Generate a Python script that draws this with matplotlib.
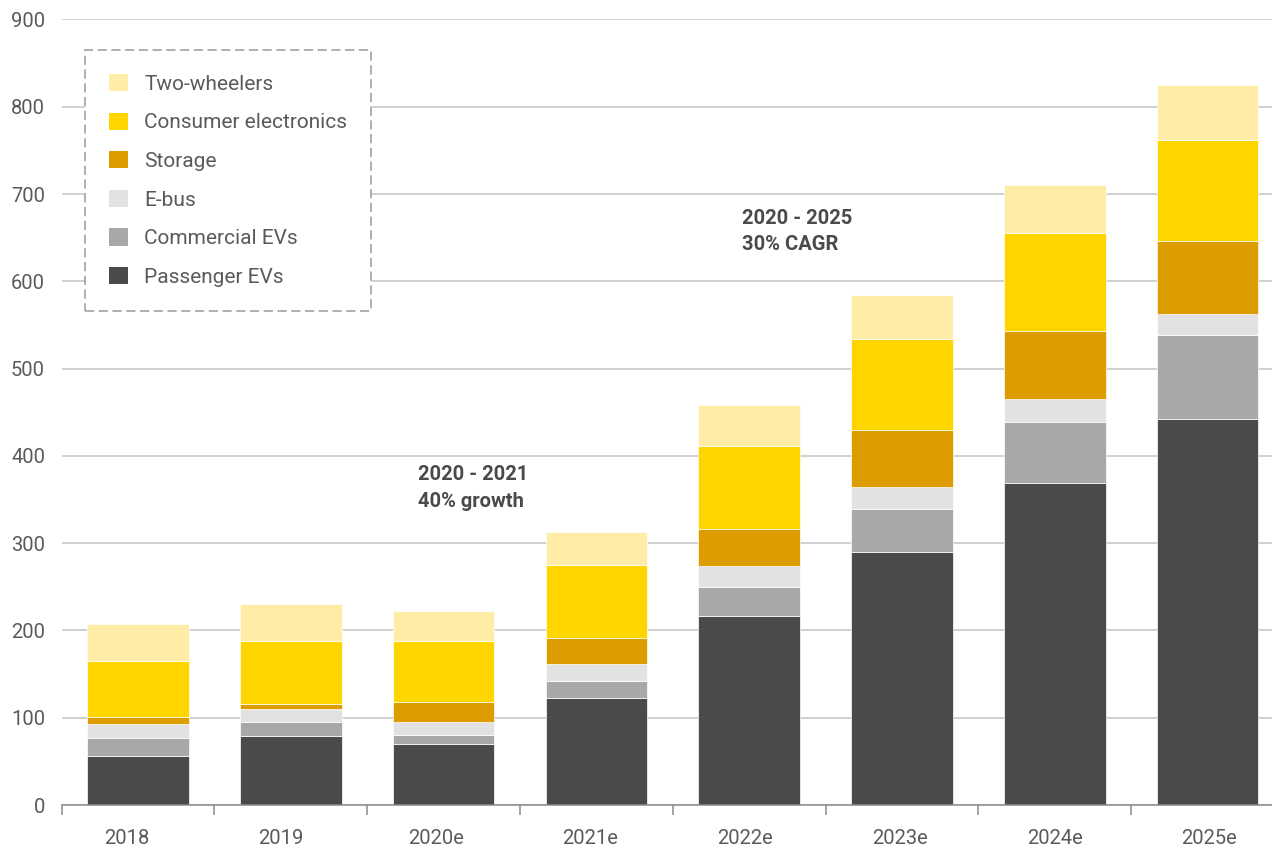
import numpy as np
import matplotlib
matplotlib.use('Agg')
import matplotlib.pyplot as plt
from matplotlib.patches import Patch

plt.rcParams['font.family'] = ['Roboto', 'DejaVu Sans']

# data
years = ['2018', '2019', '2020e', '2021e', '2022e', '2023e', '2024e', '2025e']
passenger = [56.5, 78.5, 70, 123, 216.5, 290, 368.5, 442]
commercial = [20, 16.5, 10, 19, 33, 49, 70.5, 96.5]
ebus = [16, 15, 15.5, 19, 24, 25.5, 26, 24.5]
storage = [8, 6, 22.5, 30, 43, 65.5, 78, 83]
electronics = [65, 72, 70, 84, 95, 104, 112, 115.5]
two_wheelers = [41.5, 42, 34, 38, 47, 50, 55, 63]

series = [
    ('Passenger EVs', passenger, '#4a4a48'),
    ('Commercial EVs', commercial, '#a8a8a6'),
    ('E-bus', ebus, '#e2e2e2'),
    ('Storage', storage, '#dd9c00'),
    ('Consumer electronics', electronics, '#ffd500'),
    ('Two-wheelers', two_wheelers, '#ffeca6'),
]

W, H = 1272, 846
fig = plt.figure(figsize=(W / 100, H / 100), dpi=100)
# axes runs a bit past the right edge, like the reference
ax = fig.add_axes([61.7 / W, 41 / H, (1284 - 61.7) / W, (805 - 19.5) / H])

x = np.arange(len(years))
bottom = np.zeros(len(years))
for name, vals, col in series:
    ax.bar(x, vals, width=0.665, bottom=bottom, color=col, edgecolor='white',
           linewidth=0.5, zorder=3)
    bottom += np.array(vals)

ax.set_xlim(-0.5, len(years) - 0.5)
ax.set_ylim(0, 900)
ax.set_yticks(np.arange(0, 901, 100))
ax.grid(axis='y', color='#c4c4c4', linewidth=1.1, zorder=0)
ax.set_axisbelow(True)

for s in ['left', 'right', 'top']:
    ax.spines[s].set_visible(False)
ax.spines['bottom'].set_color('#8a8a8a')
ax.spines['bottom'].set_linewidth(1.1)
ax.spines['bottom'].set_zorder(4)

# category labels sit slightly off the bar centres in the original
ax.set_xticks(-0.077 + x * 1.0126)
ax.set_xticklabels(years)
ax.set_xticks(np.arange(-0.5, len(years)), minor=True)
ax.tick_params(axis='x', which='major', length=0, pad=17, labelsize=14.5,
               labelcolor='#5a5a5a')
ax.tick_params(axis='x', which='minor', length=7.5, width=1.1, color='#8a8a8a')
ax.tick_params(axis='y', length=0, pad=12, labelsize=14.5, labelcolor='#5a5a5a')

# annotations
ax.text(1.83, 389.5, '2020 - 2021\n40% growth', fontsize=14.5, fontweight='bold',
        color='#4a4a4a', va='top', ha='left', linespacing=1.5)
ax.text(3.95, 683, '2020 - 2025\n30% CAGR', fontsize=14.5, fontweight='bold',
        color='#4a4a4a', va='top', ha='left', linespacing=1.45)

# legend, top-most series first
handles = [Patch(facecolor=col, edgecolor='none', label=name)
           for name, vals, col in series[::-1]]
leg = ax.legend(handles=handles, loc='upper left',
                bbox_to_anchor=(23.3 / (1284 - 61.7), (805 - 50) / (805 - 19.5)),
                borderaxespad=0, fontsize=15, frameon=True, fancybox=False,
                handlelength=0.9, handleheight=0.9, handletextpad=0.8,
                labelspacing=0.9, borderpad=1.15)
frame = leg.get_frame()
frame.set_facecolor('white')
frame.set_alpha(1)
frame.set_edgecolor('#9a9a9a')
frame.set_linewidth(1.1)
frame.set_linestyle((0, (6, 3)))
for t in leg.get_texts():
    t.set_color('#5a5a5a')

fig.savefig('out.png', dpi=100)
